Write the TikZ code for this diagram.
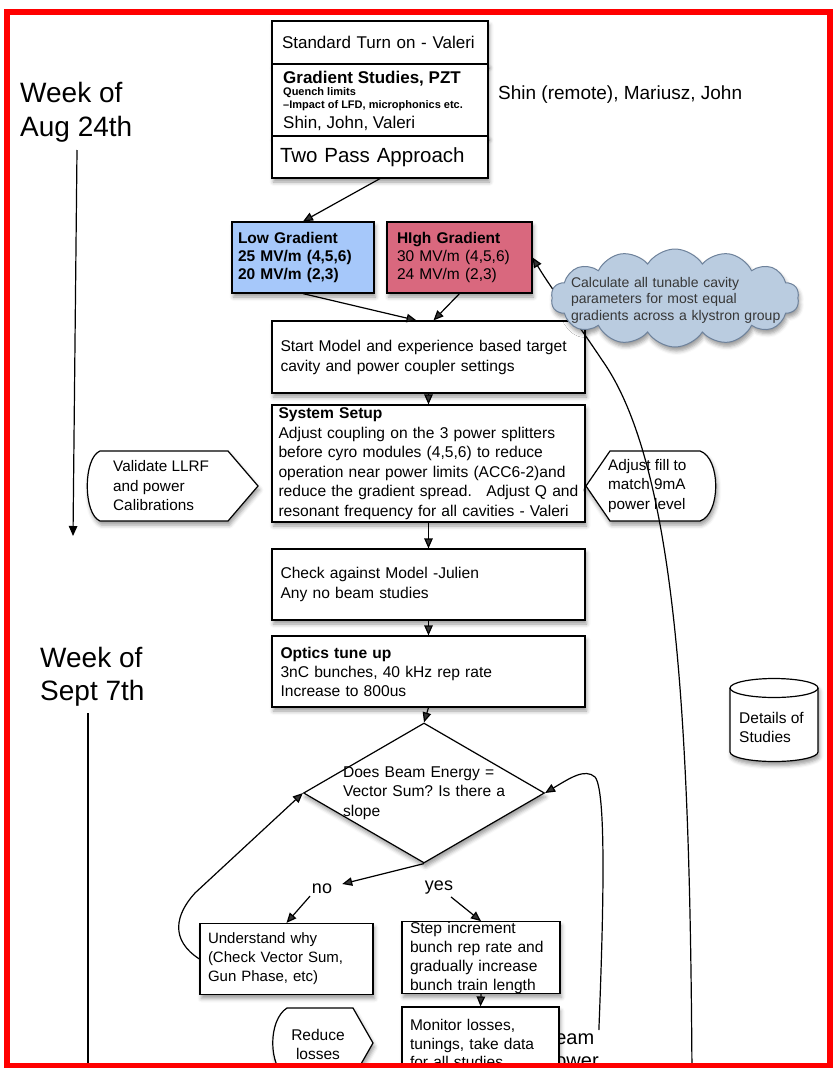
\documentclass[tikz,border=0pt]{standalone}
\usepackage{fontspec}
\setmainfont{Liberation Sans}
\usetikzlibrary{arrows.meta,shapes.geometric,shapes.symbols,shadows.blur,calc}
\definecolor{lowblue}{RGB}{166,200,250}
\definecolor{highred}{RGB}{217,104,126}
\definecolor{cloudfill}{RGB}{186,204,224}
\definecolor{clouddraw}{RGB}{110,130,155}
\definecolor{framered}{RGB}{255,0,0}
\definecolor{cloudtext}{RGB}{55,55,55}
\frenchspacing
\begin{document}
\begin{tikzpicture}[x=1pt,y=-1pt,
  shad/.style={blur shadow={shadow xshift=1.5pt,shadow yshift=-4pt,shadow blur radius=4pt,shadow opacity=40}},
  box/.style={draw=black,line width=1.2pt,fill=white,shad,inner sep=0pt,align=left},
  body/.style={font=\fontsize{15.6}{19}\selectfont},
  txt/.style={inner sep=0pt,align=left},
  arr/.style={line width=1.2pt,-{Triangle[length=10pt,width=8.5pt]}},
  lbl/.style={font=\fontsize{18}{20}\selectfont,inner sep=2pt},
  callout/.style={draw=black,line width=1.2pt,fill=white,shad}
  ]
\useasboundingbox (0,0) rectangle (835,1068);
\clip (0,0) rectangle (835,1068);

% week labels and time arrows
\node[txt,anchor=base west,font=\fontsize{28}{34}\selectfont] (wk1a) at (20,102) {Week of};
\node[txt,anchor=base west,font=\fontsize{28}{34}\selectfont] (wk1b) at (20,136) {Aug 24th};
\node[txt,anchor=base west,font=\fontsize{28}{34}\selectfont] (wk2a) at (40,667) {Week of};
\node[txt,anchor=base west,font=\fontsize{28}{34}\selectfont] (wk2b) at (40,700) {Sept 7th};
\coordinate (augtop) at (77,150);
\coordinate (augend) at (73,536);
\draw[arr] (augtop) -- (augend);
\coordinate (septtop) at (88,713);
\coordinate (septend) at (88,1075);
\draw[line width=1.2pt] (septtop) -- (septend);

% top stack
\node[box,minimum width=216pt,minimum height=43pt,text width=196pt,font=\fontsize{17}{20}\selectfont] (turnon) at (380,42.5) {Standard Turn on - Valeri};
\node[box,minimum width=216pt,minimum height=72pt] (gradst) at (380,100) {};
\node[txt,anchor=base west,font=\fontsize{17}{20}\selectfont\bfseries] (gs1) at (283,83) {Gradient Studies, PZT};
\node[txt,anchor=base west,font=\fontsize{11}{12}\selectfont\bfseries] (gs2) at (283,95.5) {Quench limits};
\node[txt,anchor=base west,font=\fontsize{11}{12}\selectfont\bfseries] (gs3) at (283,108) {–Impact of LFD, microphonics etc.};
\node[txt,anchor=base west,font=\fontsize{17}{20}\selectfont] (gs4) at (283,128) {Shin, John, Valeri};
\node[box,minimum width=216pt,minimum height=42pt,text width=200pt,font=\fontsize{20.5}{24}\selectfont] (twopass) at (380,157) {Two Pass Approach};
\node[txt,anchor=base west,font=\fontsize{19}{20}\selectfont] (people) at (498,99) {Shin (remote), Mariusz, John};

% gradient choices
\node[box,fill=lowblue,minimum width=142pt,minimum height=71pt,text width=130pt,font=\fontsize{15.5}{18}\selectfont\bfseries] (low) at (303,257.5) {Low Gradient\\25 MV/m (4,5,6)\\20 MV/m (2,3)};
\node[box,fill=highred,minimum width=145pt,minimum height=71pt,text width=125pt,font=\fontsize{15.5}{18}\selectfont] (high) at (459.5,257.5) {\textbf{HIgh Gradient}\\30 MV/m (4,5,6)\\24 MV/m (2,3)};

% main column
\node[box,body,minimum width=313pt,minimum height=72pt,text width=296pt,font=\fontsize{15.6}{20}\selectfont] (start) at (428.5,357) {Start Model and experience based target\\cavity and power coupler settings};
\node[box,minimum width=313pt,minimum height=117pt,text width=300pt,font=\fontsize{15.6}{19.5}\selectfont] (sys) at (428.5,463.5) {\textbf{System Setup}\\Adjust coupling on the 3 power splitters\\before cyro modules (4,5,6) to reduce\\operation near power limits (ACC6-2)and\\\mbox{reduce the gradient spread.\hspace{0.6em} Adjust Q and}\\resonant frequency for all cavities - Valeri};
\node[box,body,minimum width=313pt,minimum height=71pt,text width=296pt,font=\fontsize{15.6}{20}\selectfont] (chk) at (428.5,584.5) {Check against Model -Julien\\Any no beam studies};
\node[box,body,minimum width=313pt,minimum height=71pt,text width=296pt] (opt) at (428.5,671.5) {\textbf{Optics tune up}\\3nC bunches, 40 kHz rep rate\\Increase to 800us};

% side callouts
\path[callout] (100,451) -- (228,451) -- (258,486) -- (228,521) -- (100,521) .. controls (83,514) and (83,458) .. (100,451) -- cycle;
\node[txt,anchor=west,font=\fontsize{15.3}{19.5}\selectfont] (valid) at (113,486) {Validate LLRF\\and power\\Calibrations};
\path[callout] (586,486) -- (610,451) -- (700,451) .. controls (721,458) and (721,514) .. (700,521) -- (610,521) -- cycle;
\node[txt,anchor=west,font=\fontsize{15.3}{19.5}\selectfont] (adjfill) at (608,486) {Adjust fill to\\match 9mA\\power level};

% decision
\node[diamond,draw=black,line width=1.2pt,fill=white,shad,minimum width=241pt,minimum height=140pt,inner sep=0pt] (dia) at (424,793) {};
\node[txt,text width=166pt,font=\fontsize{15.6}{19.5}\selectfont] (diatxt) at (426,793) {Does Beam Energy =\\Vector Sum? Is there a\\slope};
\node[lbl] (no) at (322,889) {no};
\node[lbl] (yes) at (439,888) {yes};

\node[box,minimum width=173pt,minimum height=71pt,text width=157pt,font=\fontsize{15}{19}\selectfont] (under) at (286.5,959) {Understand why\\(Check Vector Sum,\\Gun Phase, etc)};
\node[box,body,minimum width=158pt,minimum height=71pt,text width=142pt] (step) at (481,957.5) {Step increment\\bunch rep rate and\\gradually increase\\bunch train length};

% bottom
\node[txt,anchor=north west,font=\fontsize{20}{23}\selectfont] (beam) at (544,1030) {beam\\power};
\node[box,minimum width=157pt,minimum height=73pt,text width=141pt,font=\fontsize{15.5}{18.5}\selectfont] (mon) at (480.5,1043.5) {Monitor losses,\\tunings, take data\\for all studies};
\path[callout] (287,1008) -- (353,1008) -- (373,1043) -- (353,1078) -- (287,1078) .. controls (268,1066) and (268,1020) .. (287,1008) -- cycle;
\node[txt,align=center,font=\fontsize{15.5}{19}\selectfont] (reduce) at (318,1044.5) {Reduce\\losses};

% details cylinder
\path[draw=black,line width=1.2pt,fill=white,shad] (730,688) -- (730,752) arc[start angle=180,end angle=360,x radius=44pt,y radius=9.5pt] -- (818,688) arc[start angle=0,end angle=180,x radius=44pt,y radius=9.5pt] -- cycle;
\draw[line width=1.2pt] (730,688) arc[start angle=180,end angle=360,x radius=44pt,y radius=9.5pt];
\node[txt,anchor=west,font=\fontsize{15.5}{19}\selectfont] (details) at (739,727.5) {Details of\\Studies};

% connectors
\draw[arr] (twopass.south) -- (low.north);
\draw[arr] (low.south) -- ($(start.north)+(-12,0)$);
\draw[arr] (high.south) -- ($(start.north)+(5,0)$);
\draw[arr] (start.south) -- (sys.north);
\draw[arr] (sys.south) -- (chk.north);
\draw[arr] (chk.south) -- (opt.north);
\draw[arr] (opt.south) -- (dia.north);
\draw[arr] (dia.south) -- ([shift={(8,-5)}]no.east);
\draw[arr] ([xshift=-12pt]no.south) -- (under.north);
\draw[arr] ([xshift=12pt]yes.south) -- (step.north);
\draw[arr] (step.south) -- (mon.north);
\draw[arr] (under.west) .. controls (170,940) and (175,915) .. (195,893) -- (dia.west);
\draw[arr] (beam.north east) .. controls (604,900) and (606,790) .. (595,777) .. controls (585,768) and (570,778) .. (dia.east);
\coordinate (longend) at (692,1075);
\draw[arr] (longend) .. controls (690,750) and (680,470) .. (602,360) .. controls (574,318) and (552,290) .. (high.east);

% cloud on top of the long connector
\node[cloud,cloud puffs=14,cloud puff arc=115,cloud ignores aspect,minimum width=248pt,minimum height=98pt,inner sep=0pt,fill=cloudfill,draw=clouddraw,line width=1pt,shad] (cloud) at (675,298) {};
\node[txt,text width=210pt,text=cloudtext,font=\fontsize{14}{16.5}\selectfont] (cloudtxt) at (676,300) {Calculate all tunable cavity\\parameters for most equal\\gradients across a klystron group};

% frame
\draw[framered,line width=6pt] (7,12) rectangle (830,1066);
\end{tikzpicture}
\end{document}
